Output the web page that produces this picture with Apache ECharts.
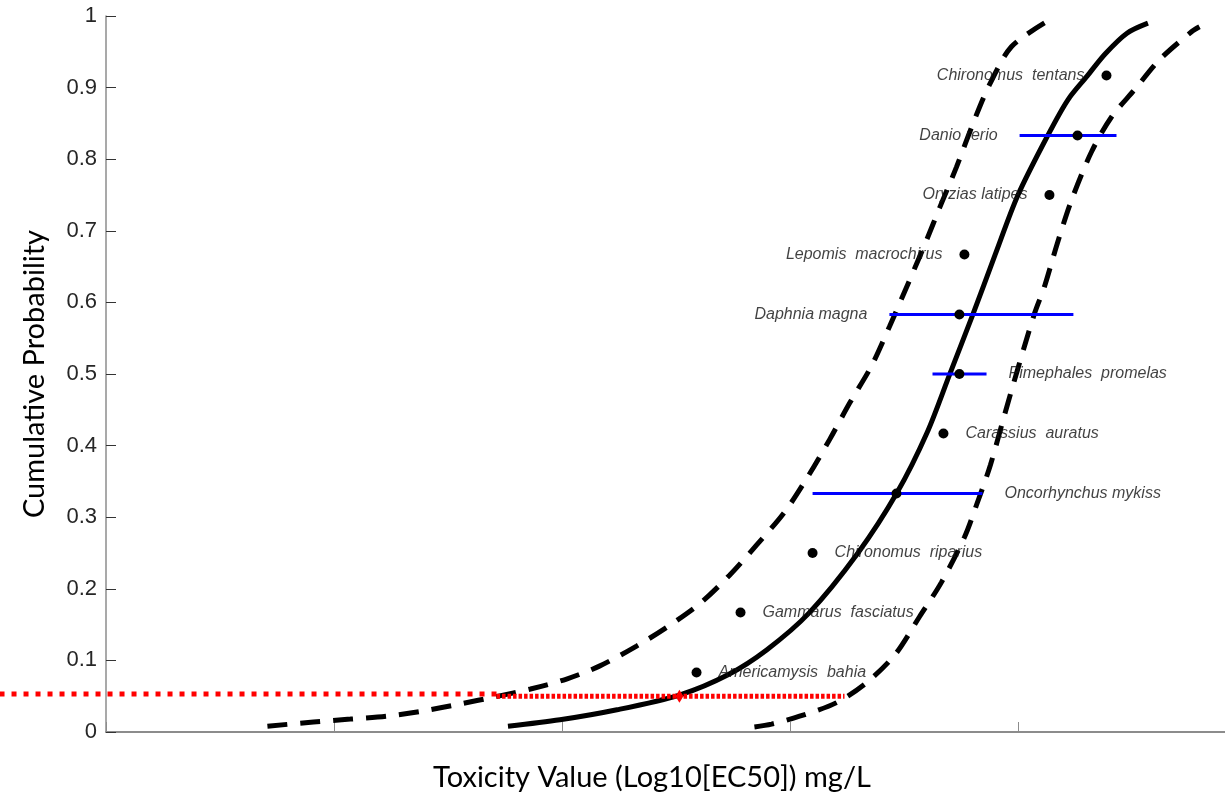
<!DOCTYPE html>
<html>
<head>
<meta charset="utf-8">
<script src="https://cdn.jsdelivr.net/npm/echarts@6/dist/echarts.min.js"></script>
<style>
  html, body { margin: 0; padding: 0; background: #ffffff; }
  #chart { width: 1225px; height: 799px; }
</style>
</head>
<body>
<div id="chart"></div>
<script>
// Ranked species toxicity values (log10 EC50) and their plotting positions
const species = [
  'Americamysis  bahia', 'Gammarus  fasciatus', 'Chironomus  riparius',
  'Oncorhynchus mykiss', 'Carassius  auratus', 'Pimephales  promelas',
  'Daphnia magna', 'Lepomis  macrochirus', 'Oryzias latipes',
  'Danio rerio', 'Chironomus  tentans'
];
const speciesLogEC50 = [-0.410, -0.217, 0.099, 0.467, 0.673, 0.743, 0.743, 0.765, 1.138, 1.261, 1.388];
const speciesProb = [0.083, 0.167, 0.250, 0.333, 0.417, 0.500, 0.583, 0.667, 0.750, 0.833, 0.917];
// Range of reported values for species with several tests
const rangeLow  = [null, null, null, 0.099, null, 0.625, 0.436, null, null, 1.007, null];
const rangeHigh = [null, null, null, 0.844, null, 0.862, 1.243, null, null, 1.432, null];
const labelSide = ['right', 'right', 'right', 'right', 'right', 'right', 'left', 'left', 'left', 'left', 'left'];

// Fitted distribution
const fitX = [-1.237, -1.009, -0.759, -0.482, -0.272, -0.101, 0.083, 0.298, 0.469, 0.601,
              0.702, 0.803, 0.899, 1.000, 1.132, 1.219, 1.303, 1.382, 1.478, 1.570];
const fitP = [0.008, 0.017, 0.031, 0.052, 0.080, 0.115, 0.166, 0.250, 0.334, 0.418,
              0.501, 0.584, 0.666, 0.750, 0.834, 0.883, 0.916, 0.947, 0.976, 0.990];
// Lower confidence bound of the fit
const lowerX = [-2.292, -2.090, -1.928, -1.770, -1.616, -1.450, -1.296, -1.138, -0.980, -0.836,
                -0.673, -0.537, -0.393, -0.265, -0.147, -0.024, 0.077, 0.173, 0.261, 0.357,
                0.436, 0.515, 0.599, 0.656, 0.730, 0.809, 0.875, 0.971, 1.125];
const lowerP = [0.008, 0.014, 0.018, 0.022, 0.029, 0.039, 0.049, 0.060, 0.074, 0.092,
                0.120, 0.147, 0.180, 0.219, 0.261, 0.307, 0.356, 0.408, 0.459, 0.511,
                0.566, 0.624, 0.687, 0.732, 0.789, 0.855, 0.904, 0.957, 0.992];
// Upper confidence bound of the fit
const upperX = [-0.156, -0.081, 0.042, 0.204, 0.340, 0.463, 0.568, 0.664, 0.765, 0.818, 0.879,
                0.941, 0.998, 1.072, 1.116, 1.173, 1.235, 1.322, 1.410, 1.511, 1.621, 1.761, 1.796];
const upperP = [0.007, 0.011, 0.022, 0.041, 0.070, 0.109, 0.161, 0.209, 0.272, 0.317, 0.373,
                0.443, 0.506, 0.584, 0.622, 0.683, 0.743, 0.810, 0.859, 0.897, 0.939, 0.978, 0.985];

// HC5 guide lines and the HC5 point on the fitted curve
const hc5Guide = [-3.467, -1.287, 0.053];   // [from, to, probability]
const hc5Span  = [-1.287, 0.239, 0.050];
const hc5X = -0.485;
const hc5P = 0.050;

const xAxisName = 'Toxicity Value (Log10[EC50]) mg/L';
const yAxisName = 'Cumulative Probability';

const pairs = (xs, ys) => xs.map((x, i) => [x, ys[i]]);

const rangeData = [];
species.forEach((s, i) => {
  if (rangeLow[i] != null) rangeData.push([rangeLow[i], rangeHigh[i], speciesProb[i]]);
});

const labelData = species.map((s, i) => {
  const left = labelSide[i] === 'left';
  let ax = speciesLogEC50[i];
  if (left && rangeLow[i] != null) ax = Math.min(ax, rangeLow[i]);
  if (!left && rangeHigh[i] != null) ax = Math.max(ax, rangeHigh[i]);
  return { value: [ax, speciesProb[i]], name: s, label: { position: labelSide[i] } };
});

// horizontal segment drawn from [x1, x2, y] through the axes
function hSegment(color, width, dash) {
  return (params, api) => {
    const a = api.coord([api.value(0), api.value(2)]);
    const b = api.coord([api.value(1), api.value(2)]);
    return {
      type: 'line',
      shape: { x1: a[0], y1: a[1], x2: b[0], y2: b[1] },
      style: { stroke: color, lineWidth: width, lineDash: dash, lineCap: 'butt' }
    };
  };
}

const chart = echarts.init(document.getElementById('chart'), null, { renderer: 'canvas' });

const sans = "'Liberation Sans', Arial, sans-serif";
const titleFont = "Lato, 'Open Sans', sans-serif";

chart.setOption({
  animation: false,
  backgroundColor: '#ffffff',
  grid: {
    left: 106, width: 1140, top: 16, height: 716,
    containLabel: false, outerBoundsMode: 'none'
  },
  xAxis: {
    type: 'value',
    min: -3, max: 2, interval: 1,
    name: xAxisName,
    nameLocation: 'middle',
    nameGap: 31,
    nameTextStyle: { fontFamily: titleFont, fontSize: 29, color: '#000000', padding: [0, 48, 0, 0] },
    axisLine: { show: true, onZero: false, lineStyle: { color: '#8c8c8c', width: 2 } },
    axisTick: { show: true, inside: true, length: 10, lineStyle: { color: '#8c8c8c', width: 1 } },
    axisLabel: { show: false },
    splitLine: { show: false }
  },
  yAxis: {
    type: 'value',
    min: 0, max: 1, interval: 0.1,
    name: yAxisName,
    nameLocation: 'middle',
    nameGap: 57,
    nameTextStyle: { fontFamily: titleFont, fontSize: 29, color: '#000000' },
    axisLine: { show: true, onZero: false, lineStyle: { color: '#8c8c8c', width: 1.5 } },
    axisTick: { show: true, inside: true, length: 10, lineStyle: { color: '#333333', width: 1 } },
    axisLabel: { fontFamily: sans, fontSize: 22, color: '#262626', margin: 9 },
    splitLine: { show: false }
  },
  series: [
    {
      name: 'lower bound', type: 'line', data: pairs(lowerX, lowerP),
      smooth: 0.3, showSymbol: false, symbol: 'none', silent: true,
      lineStyle: { color: '#000000', width: 5, type: [20, 13], cap: 'butt' }, z: 3
    },
    {
      name: 'upper bound', type: 'line', data: pairs(upperX, upperP),
      smooth: 0.3, showSymbol: false, symbol: 'none', silent: true,
      lineStyle: { color: '#000000', width: 5, type: [20, 13], cap: 'butt' }, z: 3
    },
    {
      name: 'fit', type: 'line', data: pairs(fitX, fitP),
      smooth: 0.3, showSymbol: false, symbol: 'none', silent: true,
      lineStyle: { color: '#000000', width: 5 }, z: 3
    },
    {
      name: 'range', type: 'custom', data: rangeData, silent: true, z: 4,
      encode: { x: [0, 1], y: 2 },
      renderItem: hSegment('#0000ff', 3, null)
    },
    {
      name: 'species', type: 'scatter', data: pairs(speciesLogEC50, speciesProb),
      symbol: 'circle', symbolSize: 10, silent: true, z: 5,
      itemStyle: { color: '#000000', opacity: 1 }
    },
    {
      name: 'species names', type: 'scatter', data: labelData,
      symbolSize: 0, silent: true, z: 6,
      itemStyle: { color: 'transparent' },
      label: {
        show: true, distance: 22, formatter: p => p.name,
        fontFamily: sans, fontStyle: 'italic', fontSize: 16, color: '#111111'
      }
    },
    {
      name: 'hc5 guide', type: 'custom', data: [hc5Guide], silent: true, clip: false, z: 7,
      encode: { x: [0, 1], y: 2 },
      renderItem: hSegment('#ff0000', 5, [5, 7])
    },
    {
      name: 'hc5 span', type: 'custom', data: [hc5Span], silent: true, z: 7,
      encode: { x: [0, 1], y: 2 },
      renderItem: hSegment('#ff0000', 5, [3.5, 2])
    },
    {
      name: 'hc5', type: 'scatter', data: [[hc5X, hc5P]],
      symbol: 'diamond', symbolSize: [8, 13], silent: true, z: 8,
      itemStyle: { color: '#ff0000', opacity: 1 }
    }
  ]
});
</script>
</body>
</html>
